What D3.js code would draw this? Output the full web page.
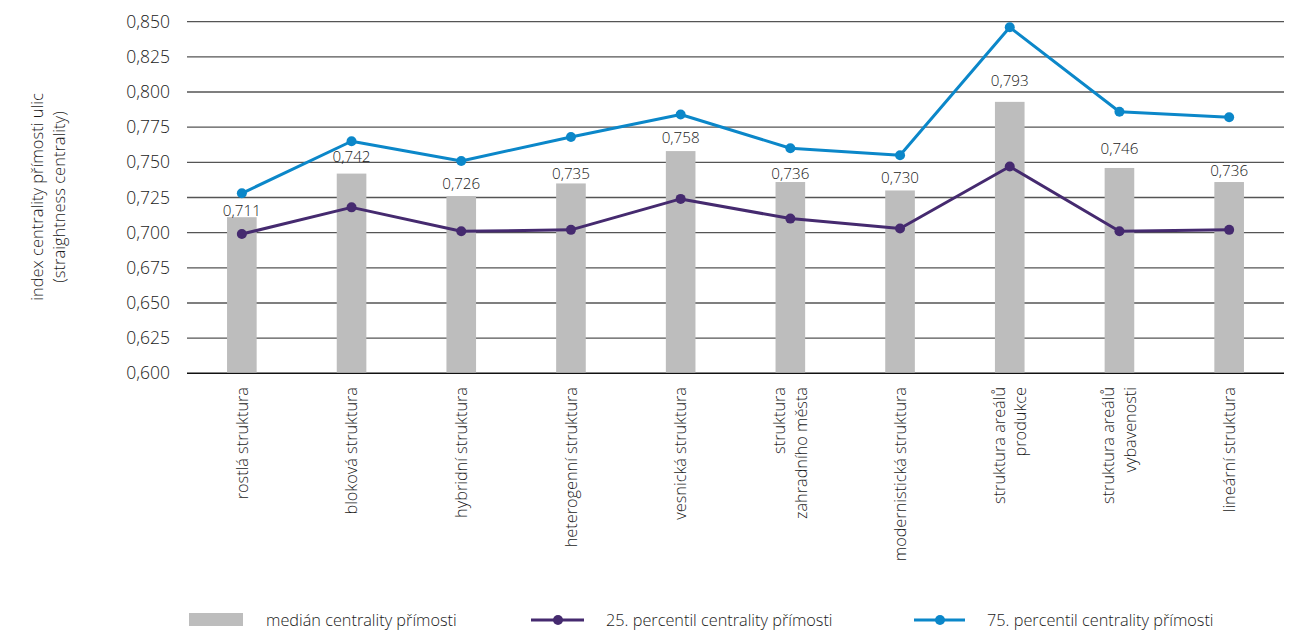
<!DOCTYPE html>
<html>
<head>
<meta charset="utf-8">
<script src="https://cdn.jsdelivr.net/npm/d3@7"></script>
<style>
  html, body { margin: 0; padding: 0; background: #fff; }
  svg { display: block; font-family: "Open Sans", "Noto Sans", sans-serif; font-weight: 300; }
</style>
</head>
<body>
<svg id="chart" width="1298" height="632"></svg>
<script>
// Urban structure types (category labels, split into lines)
const categories = [
  ["rostlá struktura"],
  ["bloková struktura"],
  ["hybridní struktura"],
  ["heterogenní struktura"],
  ["vesnická struktura"],
  ["struktura", "zahradního města"],
  ["modernistická struktura"],
  ["struktura areálů", "produkce"],
  ["struktura areálů", "vybavenosti"],
  ["lineární struktura"]
];
// Median straightness centrality (bars)
const medianValues = [0.711, 0.742, 0.726, 0.735, 0.758, 0.736, 0.730, 0.793, 0.746, 0.736];
// 25th percentile (purple line)
const p25Values = [0.699, 0.718, 0.701, 0.702, 0.724, 0.710, 0.703, 0.747, 0.701, 0.702];
// 75th percentile (blue line)
const p75Values = [0.728, 0.765, 0.751, 0.768, 0.784, 0.760, 0.755, 0.846, 0.786, 0.782];
// Axis ticks
const yTicks = [0.600, 0.625, 0.650, 0.675, 0.700, 0.725, 0.750, 0.775, 0.800, 0.825, 0.850];
const yTitle = ["index centrality přímosti ulic", "(straightness centrality)"];
const legendLabels = ["medián centrality přímosti", "25. percentil centrality přímosti", "75. percentil centrality přímosti"];

const colBar = "#bdbdbd", colP25 = "#452a6f", colP75 = "#0b87c9", colText = "#1a1a1a";
// Distance (px) of each value label above its bar, nudged clear of the lines
const labelLift = [1.5, 12, 7.5, 4.5, 8, 3, 7.5, 16, 14, 6];

const locale = d3.formatLocale({ decimal: ",", thousands: " ", grouping: [3], currency: ["", " Kč"] });
const fmt = locale.format(".3f");

const svg = d3.select("#chart");
const keys = categories.map((c, i) => i);

const x = d3.scaleBand().domain(keys).range([187, 1284]).padding(0);
const y = d3.scaleLinear().domain([0.6, 0.85]).range([373.3, 21.7]);
const barW = x.bandwidth() * 0.27;
const cx = i => x(i) + x.bandwidth() / 2;

// Horizontal gridlines
svg.append("g").selectAll("line").data(yTicks).join("line")
  .attr("x1", 187).attr("x2", 1284)
  .attr("y1", d => y(d)).attr("y2", d => y(d))
  .attr("stroke", d => d === 0.6 ? "#111" : "#555")
  .attr("stroke-width", d => d === 0.6 ? 1.6 : 1.3);

// Y axis tick labels
const yAxis = d3.axisLeft(y).tickValues(yTicks).tickFormat(fmt).tickSize(0).tickPadding(0);
const gy = svg.append("g").attr("transform", "translate(170,0)").call(yAxis);
gy.select(".domain").remove();
gy.selectAll("text").attr("font-size", 17.5).attr("fill", colText)
  .attr("font-family", "\"Open Sans\", \"Noto Sans\", sans-serif").attr("font-weight", 300);

// Y axis title
const yt = svg.append("text")
  .attr("transform", "translate(43,197) rotate(-90)")
  .attr("text-anchor", "middle").attr("font-size", 16.5).attr("fill", colText);
yTitle.forEach((t, i) => yt.append("tspan").attr("x", 0).attr("dy", i === 0 ? 0 : 22).text(t));

// Median bars
svg.append("g").selectAll("rect").data(medianValues).join("rect")
  .attr("x", (d, i) => cx(i) - barW / 2)
  .attr("width", barW)
  .attr("y", d => y(d))
  .attr("height", d => y(0.6) - y(d) - 0.8)
  .attr("fill", colBar);

// Median value labels
svg.append("g").selectAll("text").data(medianValues).join("text")
  .attr("x", (d, i) => cx(i))
  .attr("y", (d, i) => y(d) - labelLift[i])
  .attr("text-anchor", "middle")
  .attr("font-size", 15.2).attr("fill", colText)
  .text(d => fmt(d));

// Percentile lines with markers
function series(values, color) {
  const line = d3.line().x((d, i) => cx(i)).y(d => y(d));
  svg.append("path").datum(values)
    .attr("d", line).attr("fill", "none")
    .attr("stroke", color).attr("stroke-width", 3).attr("stroke-linejoin", "round");
  svg.append("g").selectAll("circle").data(values).join("circle")
    .attr("cx", (d, i) => cx(i)).attr("cy", d => y(d)).attr("r", 5)
    .attr("fill", color);
}
series(p25Values, colP25);
series(p75Values, colP75);

// Category labels (rotated, reading bottom to top)
const gx = svg.append("g");
categories.forEach((lines, i) => {
  const n = lines.length;
  lines.forEach((t, j) => {
    const off = (j - (n - 1) / 2) * 21.5;
    gx.append("text")
      .attr("transform", `translate(${cx(i) + off},387) rotate(-90)`)
      .attr("text-anchor", "end")
      .attr("dy", "0.35em")
      .attr("font-size", 16.3).attr("fill", colText)
      .text(t);
  });
});

// Legend
const lg = svg.append("g");
lg.append("rect").attr("x", 189).attr("y", 613).attr("width", 54).attr("height", 13).attr("fill", colBar);
lg.append("text").attr("x", 266).attr("y", 620).attr("dy", "0.35em").attr("font-size", 16.3).attr("fill", colText).text(legendLabels[0]);

lg.append("line").attr("x1", 531).attr("x2", 584).attr("y1", 620).attr("y2", 620).attr("stroke", colP25).attr("stroke-width", 3);
lg.append("circle").attr("cx", 558).attr("cy", 620).attr("r", 5).attr("fill", colP25);
lg.append("text").attr("x", 606).attr("y", 620).attr("dy", "0.35em").attr("font-size", 16.3).attr("fill", colText).text(legendLabels[1]);

lg.append("line").attr("x1", 914).attr("x2", 965).attr("y1", 620).attr("y2", 620).attr("stroke", colP75).attr("stroke-width", 3);
lg.append("circle").attr("cx", 940).attr("cy", 620).attr("r", 5).attr("fill", colP75);
lg.append("text").attr("x", 987).attr("y", 620).attr("dy", "0.35em").attr("font-size", 16.3).attr("fill", colText).text(legendLabels[2]);
</script>
</body>
</html>
